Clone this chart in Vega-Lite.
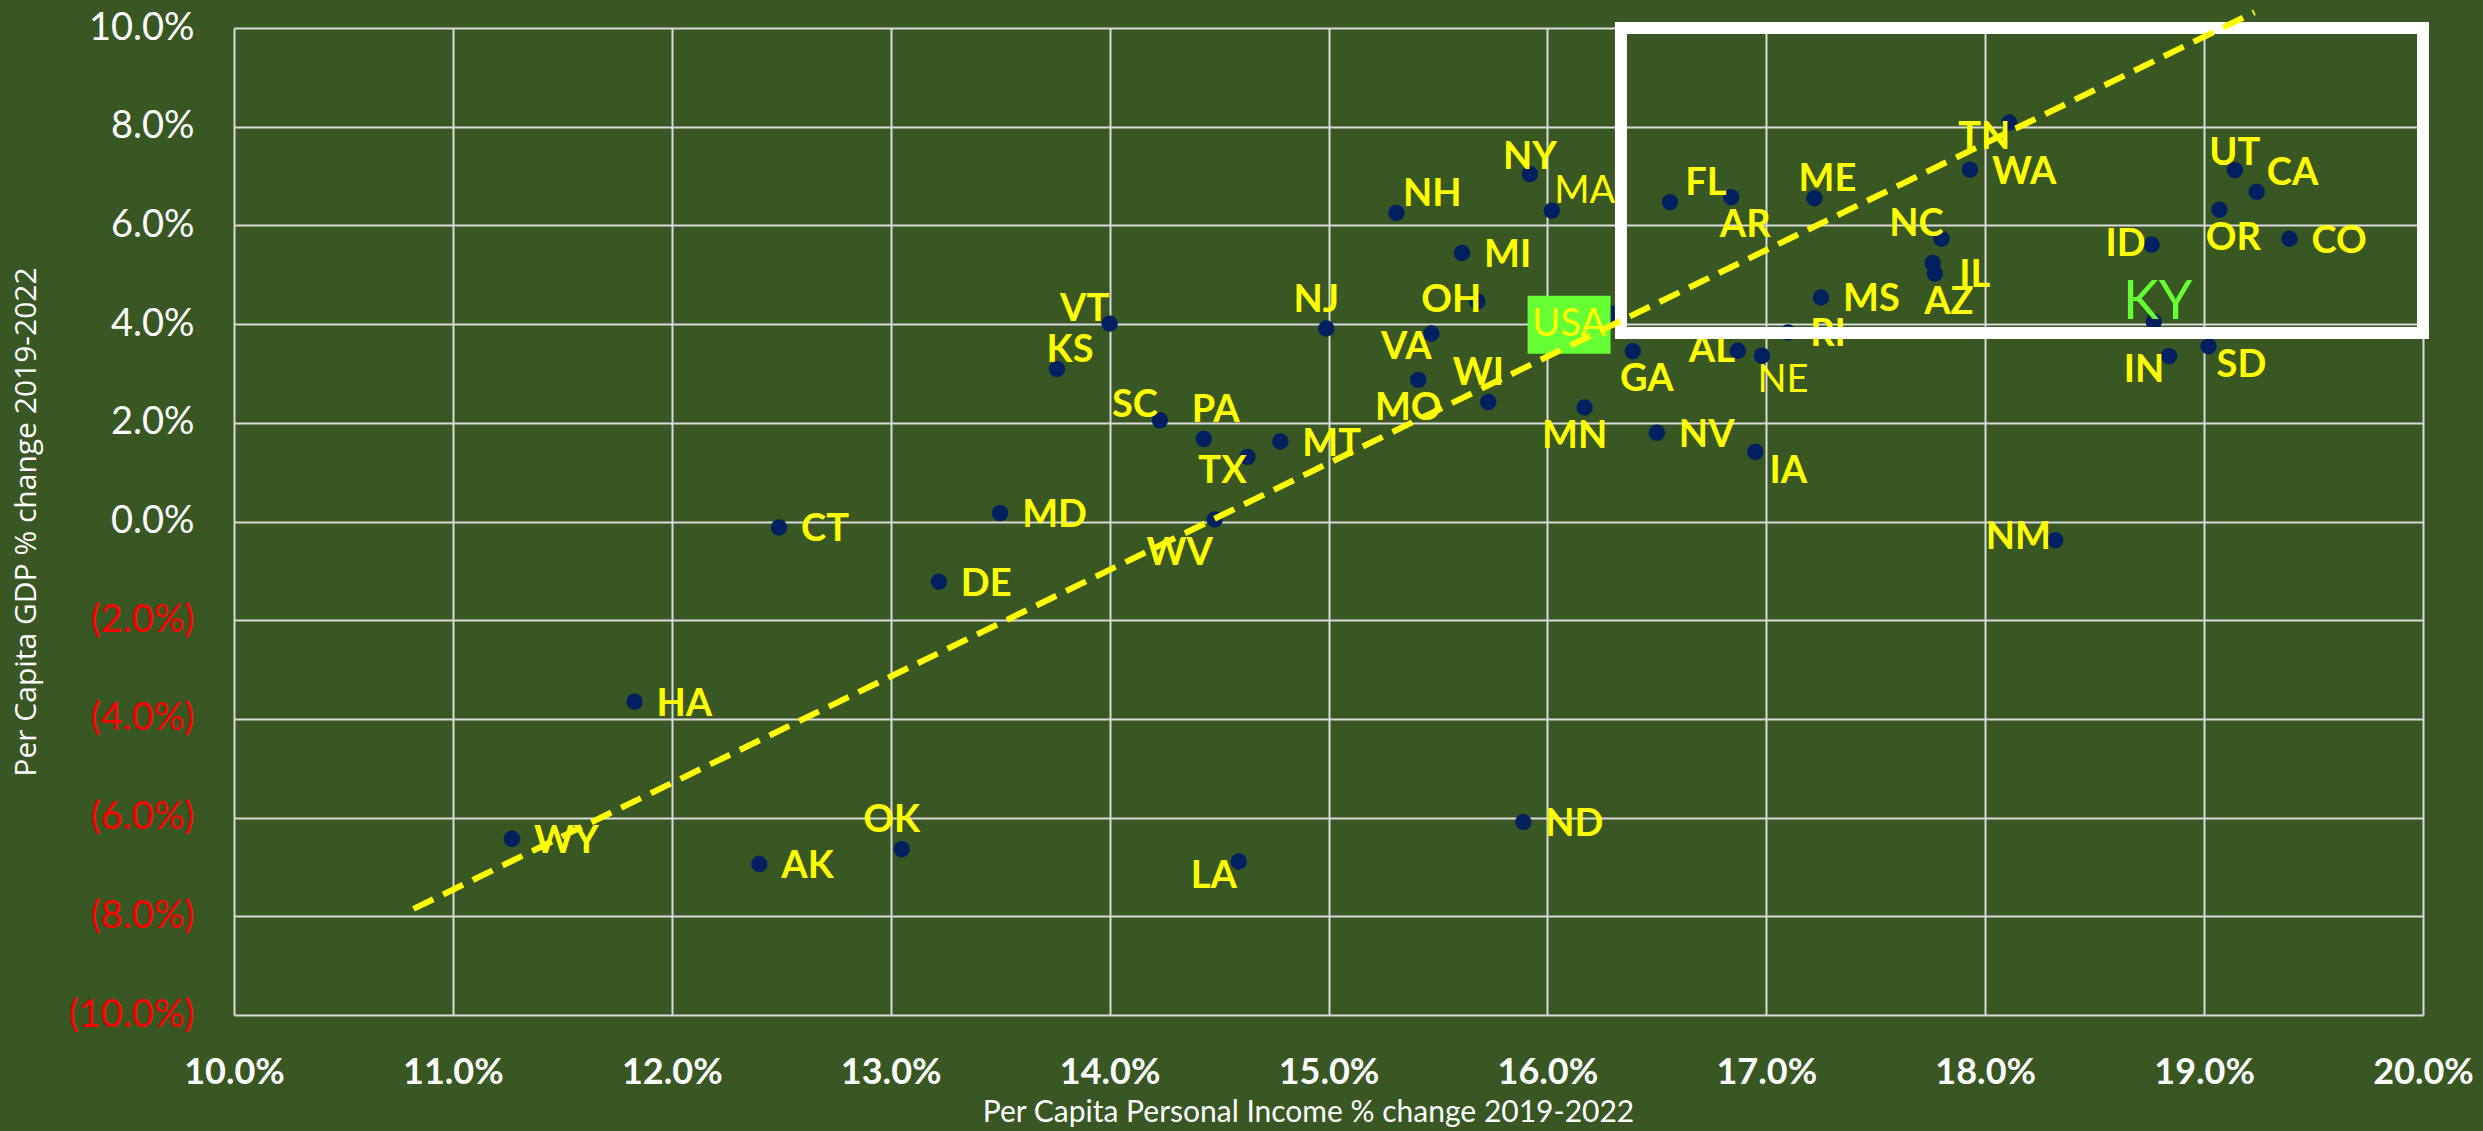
{
  "$schema": "https://vega.github.io/schema/vega-lite/v6.json",
  "width": 2189,
  "height": 987,
  "autosize": {"type": "none"},
  "padding": {"left": 234, "top": 28, "right": 60, "bottom": 116},
  "background": "#385723",
  "config": {"view": {"stroke": null}},
  "data": {"values": [
    {"st": "WY", "inc": 11.27, "gdp": -6.43},
    {"st": "HA", "inc": 11.83, "gdp": -3.65},
    {"st": "AK", "inc": 12.40, "gdp": -6.94},
    {"st": "OK", "inc": 13.05, "gdp": -6.64},
    {"st": "CT", "inc": 12.49, "gdp": -0.12},
    {"st": "DE", "inc": 13.22, "gdp": -1.22},
    {"st": "MD", "inc": 13.50, "gdp": 0.17},
    {"st": "KS", "inc": 13.76, "gdp": 3.09},
    {"st": "VT", "inc": 14.00, "gdp": 4.01},
    {"st": "SC", "inc": 14.23, "gdp": 2.05},
    {"st": "PA", "inc": 14.43, "gdp": 1.67},
    {"st": "TX", "inc": 14.63, "gdp": 1.31},
    {"st": "MT", "inc": 14.78, "gdp": 1.62},
    {"st": "WV", "inc": 14.48, "gdp": 0.04},
    {"st": "LA", "inc": 14.59, "gdp": -6.89},
    {"st": "NJ", "inc": 14.99, "gdp": 3.91},
    {"st": "NH", "inc": 15.31, "gdp": 6.25},
    {"st": "NY", "inc": 15.92, "gdp": 7.04},
    {"st": "MA", "inc": 16.02, "gdp": 6.30},
    {"st": "MI", "inc": 15.61, "gdp": 5.44},
    {"st": "OH", "inc": 15.68, "gdp": 4.46},
    {"st": "VA", "inc": 15.47, "gdp": 3.81},
    {"st": "MO", "inc": 15.41, "gdp": 2.87},
    {"st": "WI", "inc": 15.73, "gdp": 2.42},
    {"st": "MN", "inc": 16.17, "gdp": 2.31},
    {"st": "USA", "inc": 16.30, "gdp": 4.21},
    {"st": "GA", "inc": 16.39, "gdp": 3.45},
    {"st": "AL", "inc": 16.87, "gdp": 3.46},
    {"st": "NE", "inc": 16.98, "gdp": 3.36},
    {"st": "RI", "inc": 17.10, "gdp": 3.83},
    {"st": "MS", "inc": 17.25, "gdp": 4.54},
    {"st": "NV", "inc": 16.50, "gdp": 1.80},
    {"st": "IA", "inc": 16.95, "gdp": 1.41},
    {"st": "ND", "inc": 15.89, "gdp": -6.09},
    {"st": "NM", "inc": 18.32, "gdp": -0.38},
    {"st": "FL", "inc": 16.56, "gdp": 6.47},
    {"st": "AR", "inc": 16.84, "gdp": 6.57},
    {"st": "ME", "inc": 17.22, "gdp": 6.55},
    {"st": "TN", "inc": 18.11, "gdp": 8.08},
    {"st": "WA", "inc": 17.93, "gdp": 7.13},
    {"st": "NC", "inc": 17.80, "gdp": 5.73},
    {"st": "IL", "inc": 17.76, "gdp": 5.24},
    {"st": "AZ", "inc": 17.77, "gdp": 5.02},
    {"st": "KY", "inc": 18.77, "gdp": 4.05},
    {"st": "ID", "inc": 18.76, "gdp": 5.61},
    {"st": "IN", "inc": 18.84, "gdp": 3.35},
    {"st": "SD", "inc": 19.02, "gdp": 3.55},
    {"st": "OR", "inc": 19.07, "gdp": 6.32},
    {"st": "UT", "inc": 19.14, "gdp": 7.12},
    {"st": "CA", "inc": 19.24, "gdp": 6.68},
    {"st": "CO", "inc": 19.39, "gdp": 5.73}
  ]},
  "encoding": {
    "x": {
      "field": "inc", "type": "quantitative",
      "scale": {"domain": [10, 20], "nice": false, "zero": false},
      "axis": {
        "values": [10, 11, 12, 13, 14, 15, 16, 17, 18, 19, 20],
        "labelExpr": "format(datum.value, '.1f') + '%'",
        "labelFont": "Lato", "labelFontWeight": "bold", "labelFontSize": 36, "labelColor": "#FFFFFF",
        "labelPadding": 40, "labelFlush": false,
        "domain": false, "ticks": false,
        "grid": true, "gridColor": "#D9D9D9", "gridWidth": 2,
        "title": "Per Capita Personal Income % change 2019-2022",
        "titleFont": "Lato", "titleFontWeight": "normal", "titleFontSize": 30, "titleColor": "#FFFFFF",
        "titlePadding": 7, "titleX": 1074
      }
    },
    "y": {
      "field": "gdp", "type": "quantitative",
      "scale": {"domain": [-10, 10], "nice": false, "zero": false},
      "axis": {
        "values": [-10, -8, -6, -4, -2, 0, 2, 4, 6, 8, 10],
        "labelExpr": "datum.value < 0 ? '(' + format(-datum.value, '.1f') + '%)' : format(datum.value, '.1f') + '%'",
        "labelFont": "Lato", "labelFontWeight": "normal", "labelFontSize": 38,
        "labelColor": {"condition": {"test": "datum.value < 0", "value": "#FF0000"}, "value": "#FFFFFF"},
        "labelPadding": 40, "labelFlush": false,
        "domain": false, "ticks": false,
        "grid": true, "gridColor": "#D9D9D9", "gridWidth": 2,
        "title": "Per Capita GDP % change 2019-2022",
        "titleFont": "Open Sans", "titleFontWeight": "normal", "titleFontSize": 30, "titleColor": "#FFFFFF",
        "titlePadding": 27
      }
    }
  },
  "layer": [
    {"mark": {"type": "point", "filled": true, "color": "#002060", "opacity": 1, "size": 270}},
    {"transform": [{"filter": {"field": "st", "oneOf": ["WY","HA","AK","CT","DE","MD","MT","NV","ND","MS","CO","WA","RI","MI"]}}],
     "mark": {"type": "text", "font": "Lato", "fontWeight": "bold", "fontSize": 38, "color": "#FFFF00", "align": "left", "baseline": "middle", "dx": 22, "dy": 3},
     "encoding": {"text": {"field": "st"}}},
    {"transform": [{"filter": {"field": "st", "oneOf": ["OK","NJ","WI"]}}],
     "mark": {"type": "text", "font": "Lato", "fontWeight": "bold", "fontSize": 38, "color": "#FFFF00", "align": "center", "baseline": "middle", "dx": -10, "dy": -28},
     "encoding": {"text": {"field": "st"}}},
    {"transform": [{"filter": {"field": "st", "oneOf": ["PA"]}}],
     "mark": {"type": "text", "font": "Lato", "fontWeight": "bold", "fontSize": 38, "color": "#FFFF00", "align": "center", "baseline": "middle", "dx": 12, "dy": -28},
     "encoding": {"text": {"field": "st"}}},
    {"transform": [{"filter": {"field": "st", "oneOf": ["KS","ME"]}}],
     "mark": {"type": "text", "font": "Lato", "fontWeight": "bold", "fontSize": 38, "color": "#FFFF00", "align": "center", "baseline": "middle", "dx": 13, "dy": -18},
     "encoding": {"text": {"field": "st"}}},
    {"transform": [{"filter": {"field": "st", "oneOf": ["NY","UT"]}}],
     "mark": {"type": "text", "font": "Lato", "fontWeight": "bold", "fontSize": 38, "color": "#FFFF00", "align": "center", "baseline": "middle", "dx": 0, "dy": -16},
     "encoding": {"text": {"field": "st"}}},
    {"transform": [{"filter": {"field": "st", "oneOf": ["MO","MN"]}}],
     "mark": {"type": "text", "font": "Lato", "fontWeight": "bold", "fontSize": 38, "color": "#FFFF00", "align": "center", "baseline": "middle", "dx": -10, "dy": 29},
     "encoding": {"text": {"field": "st"}}},
    {"transform": [{"filter": {"field": "st", "oneOf": ["GA","AR","OR","AZ"]}}],
     "mark": {"type": "text", "font": "Lato", "fontWeight": "bold", "fontSize": 38, "color": "#FFFF00", "align": "center", "baseline": "middle", "dx": 14, "dy": 29},
     "encoding": {"text": {"field": "st"}}},
    {"transform": [{"filter": {"field": "st", "oneOf": ["SD","IA"]}}],
     "mark": {"type": "text", "font": "Lato", "fontWeight": "bold", "fontSize": 38, "color": "#FFFF00", "align": "center", "baseline": "middle", "dx": 33, "dy": 20},
     "encoding": {"text": {"field": "st"}}},
    {"transform": [{"filter": {"field": "st", "oneOf": ["IN","VA","LA","TN","TX"]}}],
     "mark": {"type": "text", "font": "Lato", "fontWeight": "bold", "fontSize": 38, "color": "#FFFF00", "align": "center", "baseline": "middle", "dx": -25, "dy": 15},
     "encoding": {"text": {"field": "st"}}},
    {"transform": [{"filter": {"field": "st", "oneOf": ["WV"]}}],
     "mark": {"type": "text", "font": "Lato", "fontWeight": "bold", "fontSize": 38, "color": "#FFFF00", "align": "center", "baseline": "middle", "dx": -35, "dy": 34},
     "encoding": {"text": {"field": "st"}}},
    {"transform": [{"filter": {"field": "st", "oneOf": ["AL","ID","OH"]}}],
     "mark": {"type": "text", "font": "Lato", "fontWeight": "bold", "fontSize": 38, "color": "#FFFF00", "align": "center", "baseline": "middle", "dx": -26, "dy": 0},
     "encoding": {"text": {"field": "st"}}},
    {"transform": [{"filter": {"field": "st", "oneOf": ["NM"]}}],
     "mark": {"type": "text", "font": "Lato", "fontWeight": "bold", "fontSize": 38, "color": "#FFFF00", "align": "center", "baseline": "middle", "dx": -37, "dy": -2},
     "encoding": {"text": {"field": "st"}}},
    {"transform": [{"filter": {"field": "st", "oneOf": ["SC","VT","NC"]}}],
     "mark": {"type": "text", "font": "Lato", "fontWeight": "bold", "fontSize": 38, "color": "#FFFF00", "align": "center", "baseline": "middle", "dx": -25, "dy": -14},
     "encoding": {"text": {"field": "st"}}},
    {"transform": [{"filter": {"field": "st", "oneOf": ["FL","CA","NH"]}}],
     "mark": {"type": "text", "font": "Lato", "fontWeight": "bold", "fontSize": 38, "color": "#FFFF00", "align": "center", "baseline": "middle", "dx": 36, "dy": -18},
     "encoding": {"text": {"field": "st"}}},
    {"transform": [{"filter": {"field": "st", "oneOf": ["IL"]}}],
     "mark": {"type": "text", "font": "Lato", "fontWeight": "bold", "fontSize": 38, "color": "#FFFF00", "align": "center", "baseline": "middle", "dx": 42, "dy": 13},
     "encoding": {"text": {"field": "st"}}},
    {"transform": [{"filter": {"field": "st", "oneOf": ["MA"]}}],
     "mark": {"type": "text", "font": "Lato", "fontWeight": "normal", "fontSize": 38, "color": "#FFFF00", "align": "center", "baseline": "middle", "dx": 33, "dy": -19},
     "encoding": {"text": {"field": "st"}}},
    {"transform": [{"filter": {"field": "st", "oneOf": ["NE"]}}],
     "mark": {"type": "text", "font": "Lato", "fontWeight": "normal", "fontSize": 38, "color": "#FFFF00", "align": "center", "baseline": "middle", "dx": 21, "dy": 25},
     "encoding": {"text": {"field": "st"}}},
    {"transform": [{"filter": {"field": "st", "oneOf": ["KY"]}}],
     "mark": {"type": "text", "font": "Lato", "fontWeight": "normal", "fontSize": 54, "color": "#66FF33", "align": "center", "baseline": "middle", "dx": 4, "dy": -19},
     "encoding": {"text": {"field": "st"}}},
    {"data": {"values": [{"inc": 16.336, "inc2": 20.0, "gdp": 3.82, "gdp2": 10.0}]},
     "mark": {"type": "rect", "fill": null, "fillOpacity": 0, "stroke": "#FFFFFF", "strokeWidth": 12, "clip": false},
     "encoding": {"x2": {"field": "inc2"}, "y2": {"field": "gdp2"}}},
    {"transform": [{"filter": {"field": "st", "oneOf": ["USA"]}}],
     "mark": {"type": "point", "filled": true, "color": "#66FF33", "opacity": 1, "size": 3364, "shape": "M -1.431 -1 L 1.431 -1 L 1.431 1 L -1.431 1 Z", "xOffset": -44, "yOffset": 11}},
    {"transform": [{"filter": {"field": "st", "oneOf": ["USA"]}}],
     "mark": {"type": "text", "font": "Lato", "fontWeight": "normal", "fontSize": 38, "color": "#FFFF00", "align": "center", "baseline": "middle", "dx": -44, "dy": 11},
     "encoding": {"text": {"field": "st"}}},
    {"data": {"values": [{"inc": 10.82, "gdp": -7.85}, {"inc": 19.23, "gdp": 10.32}]},
     "mark": {"type": "line", "color": "#FFFF00", "strokeWidth": 6, "strokeDash": [22, 11], "clip": false}}
  ]
}
